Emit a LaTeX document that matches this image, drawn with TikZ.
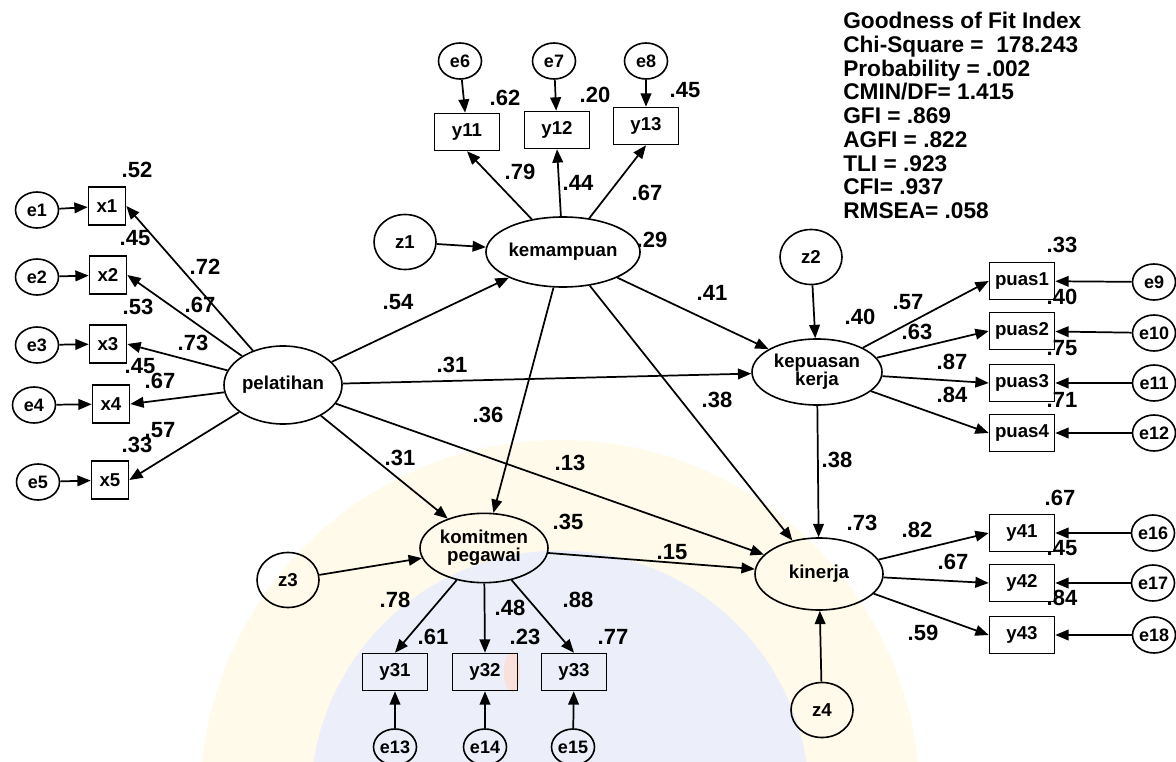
\documentclass[tikz,border=0pt]{standalone}
\usepackage{fontspec}
\setmainfont{Liberation Sans}
\usetikzlibrary{arrows.meta,shapes.geometric}

\newcommand\lblfont{\fontsize{14pt}{13.5pt}\selectfont\bfseries}
\newcommand\smlfont{\fontsize{13.5pt}{14pt}\selectfont\bfseries}
\newcommand\numfont{\fontsize{16.5pt}{18pt}\selectfont\bfseries}
\newcommand\fitfont{\fontsize{17pt}{17.8pt}\selectfont\bfseries}

\definecolor{wmyellow}{HTML}{FFFAEA}
\definecolor{wmblue}{HTML}{ECEEFA}
\definecolor{wmpink}{HTML}{F9E0DA}

\begin{document}
\begin{tikzpicture}[x=0.75pt,y=-0.75pt,
  lat/.style={draw, ellipse, line width=1.2pt, inner sep=0pt, align=center, font=\lblfont},
  dist/.style={draw, ellipse, line width=1.2pt, inner sep=0pt, minimum width=46.5pt, minimum height=41.25pt, font=\lblfont},
  err/.style={draw, ellipse, line width=1.2pt, inner sep=0pt, minimum width=32.25pt, minimum height=27pt, font=\smlfont},
  obs/.style={draw, rectangle, line width=1.2pt, inner sep=0pt, minimum width=48.75pt, minimum height=27.75pt, font=\lblfont},
  obsx/.style={obs, minimum width=27.75pt, minimum height=28.5pt},
  arr/.style={-{Triangle[length=10pt,width=8pt]}, line width=1.3pt},
  num/.style={font=\numfont, inner sep=0pt}]

\useasboundingbox (0,0) rectangle (1176,762);

% faint seal printed behind the diagram
\begin{scope}
  \clip (0,0) rectangle (1176,762);
  \fill[wmyellow] (560,800) circle[radius=270pt];
  \fill[wmblue] (560,800) circle[radius=187pt];
  \fill[wmpink] (512,672) ellipse[x radius=6pt, y radius=15pt];
\end{scope}

% latent variables
\node[lat, minimum width=88.5pt, minimum height=58.5pt] (pel) at (283,385) {pelatihan};
\node[lat, minimum width=97.5pt, minimum height=52.5pt] (kem) at (563,252) {kemampuan};
\node[lat, minimum width=97.5pt, minimum height=49.5pt] (kep) at (817,372) {kepuasan\\kerja};
\node[lat, minimum width=96pt, minimum height=52pt] (kom) at (484,548) {komitmen\\pegawai};
\node[lat, minimum width=96pt, minimum height=54pt] (kin) at (819,574) {kinerja};

% disturbances
\node[dist] (z1) at (405,242) {z1};
\node[dist] (z2) at (811,257) {z2};
\node[dist] (z3) at (288,580) {z3};
\node[dist] (z4) at (822,710) {z4};

% indicators of pelatihan
\node[obsx] (x1) at (107,206) {x1};
\node[obsx] (x2) at (108,275) {x2};
\node[obsx] (x3) at (108,344) {x3};
\node[obsx] (x4) at (111,404) {x4};
\node[obsx] (x5) at (110,480) {x5};
\node[err] (e1) at (37,210) {e1};
\node[err] (e2) at (37,277) {e2};
\node[err] (e3) at (37,345) {e3};
\node[err] (e4) at (34,405) {e4};
\node[err] (e5) at (38,482) {e5};

% indicators of kemampuan
\node[obs] (y11) at (467,132) {y11};
\node[obs] (y12) at (557,130) {y12};
\node[obs] (y13) at (646,126) {y13};
\node[err] (e6) at (460,61) {e6};
\node[err] (e7) at (554,61) {e7};
\node[err] (e8) at (646,61) {e8};

% indicators of kepuasan kerja
\node[obs] (p1) at (1022,281) {puas1};
\node[obs] (p2) at (1022,331) {puas2};
\node[obs] (p3) at (1022,383) {puas3};
\node[obs] (p4) at (1022,433) {puas4};
\node[err] (e9) at (1154,282) {e9};
\node[err] (e10) at (1154,333) {e10};
\node[err] (e11) at (1154,383) {e11};
\node[err] (e12) at (1154,433) {e12};

% indicators of kinerja
\node[obs] (y41) at (1022,533) {y41};
\node[obs] (y42) at (1022,583) {y42};
\node[obs] (y43) at (1022,635) {y43};
\node[err] (e16) at (1153,533) {e16};
\node[err] (e17) at (1153,583) {e17};
\node[err] (e18) at (1154,635) {e18};

% indicators of komitmen pegawai
\node[obs] (y31) at (395,672) {y31};
\node[obs] (y32) at (485,672) {y32};
\node[obs] (y33) at (574,672) {y33};
\node[err] (e13) at (395,747) {e13};
\node[err] (e14) at (485,747) {e14};
\node[err] (e15) at (573,747) {e15};

% measurement paths
\foreach \i in {1,...,5} {
  \draw[arr] (e\i) -- (x\i);
  \draw[arr] (pel) -- (x\i.east);
}
\draw[arr] (e6) -- (y11);
\draw[arr] (e7) -- (y12);
\draw[arr] (e8) -- (y13);
\draw[arr] (kem) -- (y11.south);
\draw[arr] (kem) -- (y12.south);
\draw[arr] (kem) -- (y13.south);
\draw[arr] (e9) -- (p1);
\draw[arr] (e10) -- (p2);
\draw[arr] (e11) -- (p3);
\draw[arr] (e12) -- (p4);
\foreach \j in {1,...,4} \draw[arr] (kep) -- (p\j.west);
\draw[arr] (e16) -- (y41);
\draw[arr] (e17) -- (y42);
\draw[arr] (e18) -- (y43);
\draw[arr] (kin) -- (y41.west);
\draw[arr] (kin) -- (y42.west);
\draw[arr] (kin) -- (y43.west);
\draw[arr] (e13) -- (y31);
\draw[arr] (e14) -- (y32);
\draw[arr] (e15) -- (y33);
\draw[arr] (kom) -- (y31.north);
\draw[arr] (kom) -- (y32.north);
\draw[arr] (kom) -- (y33.north);

% structural paths
\draw[arr] (z1) -- (kem);
\draw[arr] (z2) -- (kep);
\draw[arr] (z3) -- (kom);
\draw[arr] (z4) -- (kin);
\draw[arr] (pel) -- (kem);
\draw[arr] (pel) -- (kep);
\draw[arr] (pel) -- (kom);
\draw[arr] (pel) -- (kin);
\draw[arr] (kem) -- (kep);
\draw[arr] (kem) -- (kom);
\draw[arr] (kem) -- (kin);
\draw[arr] (kep) -- (kin);
\draw[arr] (kom) -- (kin);

% estimates: pelatihan block
\node[num] (r1) at (137,170) {.52};
\node[num] (r2) at (135,238) {.45};
\node[num] (r3) at (138,307) {.53};
\node[num] (r4) at (140,366) {.45};
\node[num] (r5) at (137,445) {.33};
\node[num] (l1) at (205,267) {.72};
\node[num] (l2) at (200,305) {.67};
\node[num] (l3) at (193,343) {.73};
\node[num] (l4) at (160,381) {.67};
\node[num] (l5) at (160,430) {.57};

% estimates: kemampuan block
\node[num] (r6) at (505,98) {.62};
\node[num] (r7) at (595,95) {.20};
\node[num] (r8) at (685,90) {.45};
\node[num] (l6) at (520,172) {.79};
\node[num] (l7) at (578,183) {.44};
\node[num] (l8) at (647,193) {.67};
\node[num] (rk) at (652,240) {.29};

% estimates: structural paths
\node[num] (b1) at (398,302) {.54};
\node[num] (b2) at (712,293) {.41};
\node[num] (b3) at (452,365) {.31};
\node[num] (b4) at (488,415) {.36};
\node[num] (b5) at (717,400) {.38};
\node[num] (b6) at (400,458) {.31};
\node[num] (b7) at (570,463) {.13};
\node[num] (b8) at (837,460) {.38};
\node[num] (b9) at (672,552) {.15};

% estimates: kepuasan kerja block
\node[num] (rq) at (860,317) {.40};
\node[num] (l9) at (908,302) {.57};
\node[num] (l10) at (917,332) {.63};
\node[num] (l11) at (952,362) {.87};
\node[num] (l12) at (952,395) {.84};
\node[num] (r9) at (1062,245) {.33};
\node[num] (r10) at (1062,297) {.40};
\node[num] (r11) at (1062,348) {.75};
\node[num] (r12) at (1062,400) {.71};

% estimates: kinerja block
\node[num] (rn) at (862,523) {.73};
\node[num] (l16) at (917,530) {.82};
\node[num] (l17) at (953,562) {.67};
\node[num] (l18) at (923,633) {.59};
\node[num] (r16) at (1060,498) {.67};
\node[num] (r17) at (1062,548) {.45};
\node[num] (r18) at (1062,598) {.84};

% estimates: komitmen pegawai block
\node[num] (rm) at (568,522) {.35};
\node[num] (l13) at (395,600) {.78};
\node[num] (l14) at (510,608) {.48};
\node[num] (l15) at (578,600) {.88};
\node[num] (r13) at (433,637) {.61};
\node[num] (r14) at (525,637) {.23};
\node[num] (r15) at (613,637) {.77};

% fit summary
\node[font=\fitfont, align=left, anchor=north west, inner sep=0pt] (gof) at (843,12)
  {Goodness of Fit Index\\Chi-Square = \ 178.243\\Probability = .002\\CMIN/DF= 1.415\\GFI = .869\\AGFI = .822\\TLI = .923\\CFI= .937\\RMSEA= .058};
\end{tikzpicture}
\end{document}
